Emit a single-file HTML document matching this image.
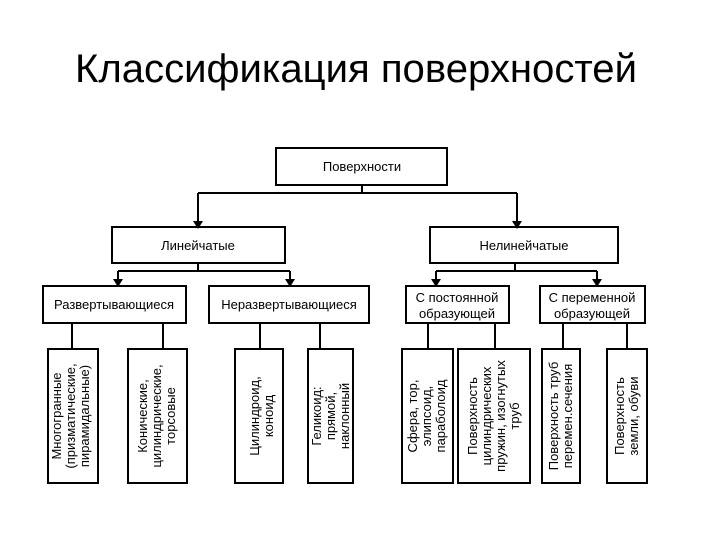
<!DOCTYPE html>
<html><head><meta charset="utf-8"><style>
html,body{margin:0;padding:0;background:#fff;}
svg{display:block}
text{font-family:"Liberation Sans",Arial,sans-serif;fill:#000}
</style></head><body>
<svg width="720" height="540" viewBox="0 0 720 540">
<text x="356" y="82" font-size="40" text-anchor="middle" textLength="562" lengthAdjust="spacingAndGlyphs">Классификация поверхностей</text>
<g fill="none" stroke="#000" stroke-width="2">
<rect x="276" y="148" width="171" height="37"/>
<rect x="112" y="227" width="173" height="36"/>
<rect x="430" y="227" width="188" height="36"/>
<rect x="43" y="286" width="143" height="37"/>
<rect x="209" y="286" width="160" height="37"/>
<rect x="406" y="286" width="103" height="37"/>
<rect x="540" y="286" width="105" height="37"/>
<rect x="48" y="349" width="50" height="134"/>
<rect x="128" y="349" width="59" height="134"/>
<rect x="235" y="349" width="48" height="134"/>
<rect x="308" y="349" width="45" height="134"/>
<rect x="402" y="349" width="51" height="134"/>
<rect x="458" y="349" width="72" height="134"/>
<rect x="542" y="349" width="38" height="134"/>
<rect x="607" y="349" width="40" height="134"/>
<path d="M362 185V193M198 193H517M198 193V222M517 193V222"/>
<path d="M198 263V271M118 271H290M118 271V281M290 271V281"/>
<path d="M515 263V271M436 271H597M436 271V281M597 271V281"/>
<path d="M72 323V349M163 323V349M260 323V349M320 323V349M428 323V349M495 323V349M563 323V349M627 323V349"/>
</g>
<g fill="#000">
<path d="M193 221L203 221L198 229Z"/><path d="M512 221L522 221L517 229Z"/>
<path d="M113 279L123 279L118 287Z"/><path d="M285 279L295 279L290 287Z"/>
<path d="M431 279L441 279L436 287Z"/><path d="M592 279L602 279L597 287Z"/>
</g>
<g font-size="13">
<text x="362" y="171" text-anchor="middle">Поверхности</text>
<text x="198" y="250" text-anchor="middle">Линейчатые</text>
<text x="524" y="250" text-anchor="middle">Нелинейчатые</text>
<text x="114" y="309" text-anchor="middle">Развертывающиеся</text>
<text x="289" y="309" text-anchor="middle">Неразвертывающиеся</text>
<text x="457" y="302" text-anchor="middle">С постоянной</text>
<text x="457" y="318" text-anchor="middle">образующей</text>
<text x="592" y="302" text-anchor="middle">С переменной</text>
<text x="592" y="318" text-anchor="middle">образующей</text>
</g>
<g font-size="13" text-anchor="middle">
<g transform="translate(73,416) rotate(-90)"><text y="-12">Многогранные</text><text y="2">(призматические,</text><text y="16">пирамидальные)</text></g>
<g transform="translate(157,416) rotate(-90)"><text y="-10">Конические,</text><text y="4">цилиндрические,</text><text y="18">торсовые</text></g>
<g transform="translate(259,416) rotate(-90)"><text y="0">Цилиндроид,</text><text y="14">коноид</text></g>
<g transform="translate(330,416) rotate(-90)"><text y="-9">Геликоид:</text><text y="5">прямой,</text><text y="19">наклонный</text></g>
<g transform="translate(427,416) rotate(-90)"><text y="-10">Сфера, тор,</text><text y="4">элипсоид,</text><text y="18">параболоид</text></g>
<g transform="translate(494,416) rotate(-90)"><text y="-17">Поверхность</text><text y="-3">цилиндрических</text><text y="11">пружин, изогнутых</text><text y="25">труб</text></g>
<g transform="translate(561,416) rotate(-90)"><text y="-3">Поверхность труб</text><text y="11">перемен.сечения</text></g>
<g transform="translate(627,416) rotate(-90)"><text y="-3">Поверхность</text><text y="11">земли, обуви</text></g>
</g>
</svg>
</body></html>
